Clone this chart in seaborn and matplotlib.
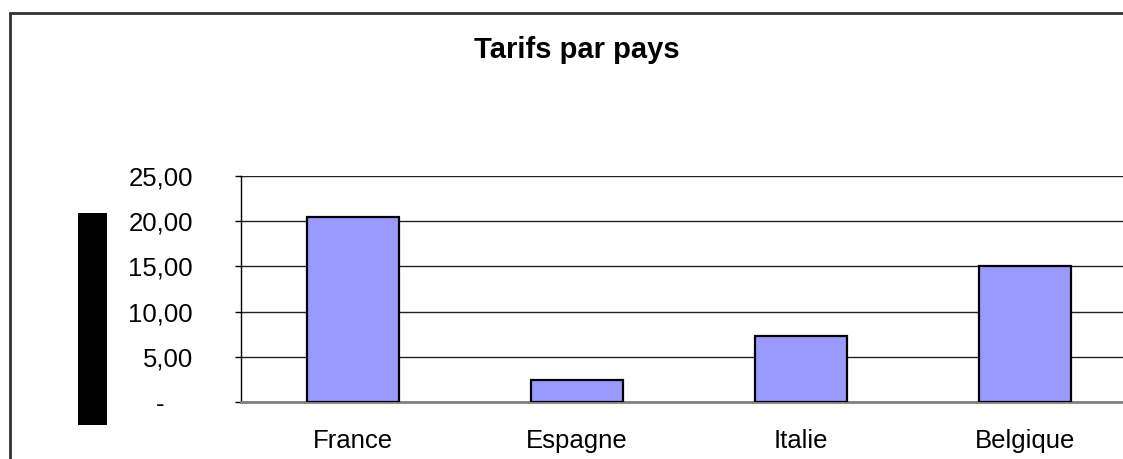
import matplotlib
matplotlib.use('Agg')
import matplotlib.pyplot as plt
from matplotlib.patches import Rectangle
import seaborn as sns
import pandas as pd

# donnees
pays = ['France', 'Espagne', 'Italie', 'Belgique']
tarifs = [20.5, 2.4, 7.3, 15.0]
yticks = [0, 5, 10, 15, 20, 25]
ylabels = ['-    ', '5,00', '10,00', '15,00', '20,00', '25,00']

sns.set_style('white')
plt.rcParams['font.family'] = ['Liberation Sans', 'DejaVu Sans']
plt.rcParams['text.color'] = 'black'
plt.rcParams['xtick.color'] = 'black'
plt.rcParams['ytick.color'] = 'black'

df = pd.DataFrame({'pays': pays, 'tarif': tarifs})

fig = plt.figure(figsize=(11.23, 4.59), dpi=100)
ax = fig.add_axes([241/1123, 57/459, 896/1123, 226/459])

sns.barplot(data=df, x='pays', y='tarif', color='#9999FF', saturation=1,
            width=0.41, edgecolor='black', linewidth=1.6, ax=ax, zorder=3)

ax.set_xlim(-0.5, 3.5)
ax.set_ylim(0, 25)
ax.set_yticks(yticks)
ax.set_yticklabels(ylabels, fontsize=18.5)
ax.set_xticks(range(len(pays)))
ax.set_xticklabels(pays, fontsize=18.5)
ax.set_xticks([-0.5, 0.5, 1.5, 2.5], minor=True)
ax.tick_params(axis='x', which='major', length=0, pad=19.5, labelcolor='black')
ax.tick_params(axis='x', which='minor', length=5, width=1, color='black', direction='out')
ax.tick_params(axis='y', length=4.5, width=1, color='black', direction='out', pad=30,
               left=True, labelcolor='black')
ax.set_xlabel('')
ax.set_ylabel('')

ax.grid(axis='y', color='#222222', linewidth=1, zorder=0)
ax.set_axisbelow(True)
ax.spines['top'].set_visible(False)
ax.spines['right'].set_visible(False)
ax.spines['left'].set_color('black')
ax.spines['left'].set_linewidth(1)
ax.spines['bottom'].set_color('#808080')
ax.spines['bottom'].set_linewidth(2)

ax.set_title('Tarifs par pays', fontsize=21, fontweight='bold', color='black',
             x=(577-241)/896, y=1.0, pad=85)

# bloc noir a gauche
fig.add_artist(Rectangle((78/1123, 34/459), 29/1123, 212/459, transform=fig.transFigure,
                         facecolor='black', edgecolor='none'))
# cadre du graphique
fig.add_artist(Rectangle((9.5/1123, -0.2), 2, (459-12.5)/459 + 0.2, transform=fig.transFigure,
                         fill=False, edgecolor='#333333', linewidth=2))

fig.savefig('out.png', dpi=100)
